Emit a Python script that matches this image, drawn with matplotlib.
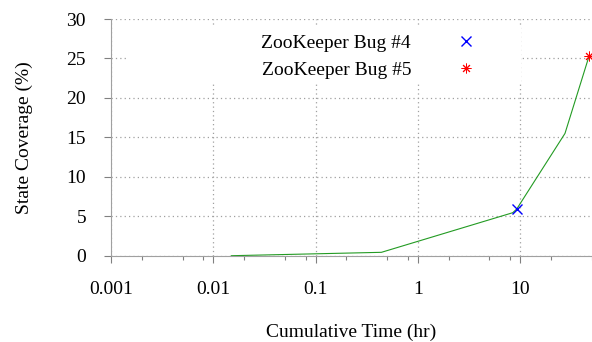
import matplotlib.pyplot as plt
import matplotlib.ticker as mticker
from matplotlib.patches import Rectangle

# Data
cum_time = [0.015, 0.44, 8.45, 9.25, 27.4, 47.1]
coverage = [0.0, 0.43, 5.45, 5.92, 15.5, 25.3]
bug4_time, bug4_cov = [9.25], [5.92]
bug5_time, bug5_cov = [47.1], [25.3]
x_ticks = [0.001, 0.01, 0.1, 1, 10]
x_labels = ["0.001", "0.01", "0.1", "1", "10"]
y_ticks = [0, 5, 10, 15, 20, 25, 30]

plt.rcParams['font.family'] = ['Liberation Serif', 'DejaVu Serif']
plt.rcParams['font.size'] = 14

fig = plt.figure(figsize=(5.92, 3.42), dpi=100)
ax = fig.add_axes([0.1875, 0.2523, 0.812, 0.692])

ax.set_xscale("log")
ax.set_xlim(0.001, 50)
ax.set_ylim(0, 30)

# grid (dotted grey)
ax.set_axisbelow(True)
ax.grid(True, which="major", color="#a0a0a0", linestyle=(0, (1, 2.5)), linewidth=0.9, zorder=0)

# white box behind the key hides the grid there
ax.add_patch(Rectangle((0.0354, 0.735), 0.8176, 0.231, transform=ax.transAxes,
                       facecolor="white", edgecolor="none", zorder=1))

ax.plot(cum_time, coverage, color="#239b23", linewidth=0.8, zorder=2)
ax.plot(bug4_time, bug4_cov, linestyle="none", marker="x", color="#0000ff",
        markersize=6.5, markeredgewidth=1.0, label="ZooKeeper Bug #4", zorder=3)
ax.plot(bug5_time, bug5_cov, linestyle="none", marker=(8, 2, 0), color="#ff0000",
        markersize=7, markeredgewidth=0.7, label="ZooKeeper Bug #5", zorder=3)

ax.set_xticks(x_ticks)
ax.set_xticklabels(x_labels)
ax.xaxis.set_minor_locator(mticker.LogLocator(base=10, subs=[2, 5, 8]))
ax.xaxis.set_minor_formatter(mticker.NullFormatter())
ax.set_yticks(y_ticks)

ax.tick_params(axis="x", which="major", direction="out", length=5, width=0.8,
               color="#808080", pad=13.5)
ax.tick_params(axis="x", which="minor", direction="out", length=3, width=0.8,
               color="#808080")
ax.tick_params(axis="y", direction="out", length=5, width=0.8, color="#808080", pad=13)

for side in ["top", "right"]:
    ax.spines[side].set_visible(False)
for side in ["left", "bottom"]:
    ax.spines[side].set_color("#a0a0a0")
    ax.spines[side].set_linewidth(0.8)

ax.set_xlabel("Cumulative Time (hr)", labelpad=18.5)
ax.set_ylabel("State Coverage (%)", labelpad=24)

ax.legend(loc="upper right", bbox_to_anchor=(0.786, 0.951), frameon=False,
          markerfirst=False, handlelength=2.0, handletextpad=1.8,
          labelspacing=0.49, borderaxespad=0, borderpad=0.2)

plt.savefig("out.png", dpi=100)
